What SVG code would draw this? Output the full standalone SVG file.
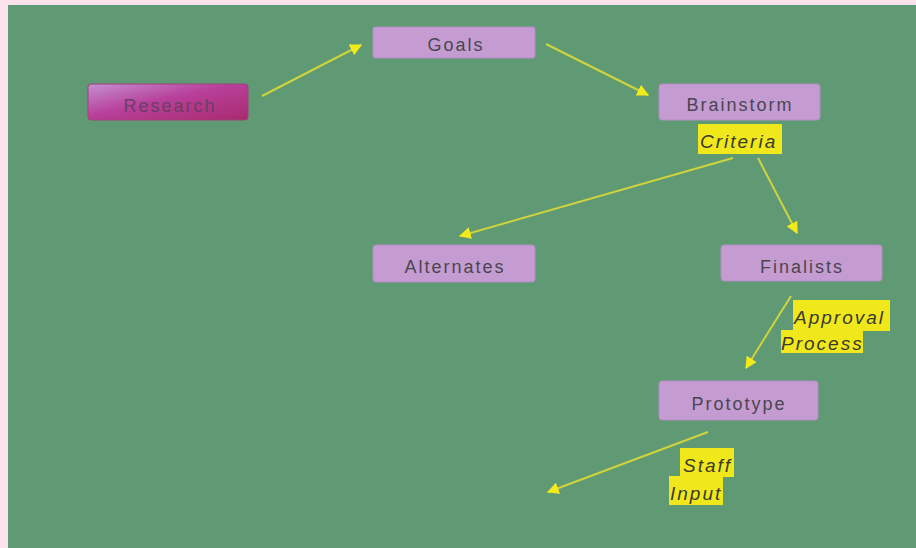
<svg xmlns="http://www.w3.org/2000/svg" width="916" height="548" viewBox="0 0 916 548">
<defs>
<style>
.node rect.box{fill:#c59cd2;stroke:#b48cc4;stroke-width:1}
.node text{font-family:"Liberation Sans",Arial,sans-serif;font-size:18px;letter-spacing:2px;fill:#4a4650;text-anchor:middle;dominant-baseline:central}
.lab rect{fill:#f1e81c}
.lab text{font-family:"Liberation Sans",Arial,sans-serif;font-size:19px;letter-spacing:2px;font-style:italic;fill:#3a3a30}
.conn line{stroke:#cfd43c;stroke-width:2;marker-end:url(#ah)}
</style>
<linearGradient id="rg" x1="0" y1="0" x2="1" y2="1">
<stop offset="0" stop-color="#c490d2"/>
<stop offset="0.45" stop-color="#b8409a"/>
<stop offset="1" stop-color="#a82a6e"/>
</linearGradient>
<marker id="ah" viewBox="0 0 10 10" refX="9" refY="5" markerWidth="6" markerHeight="6" orient="auto" markerUnits="strokeWidth">
<path d="M0,0 L10,5 L0,10 z" fill="#f2ea1a"/>
</marker>
</defs>
<rect x="0" y="0" width="916" height="548" fill="#fbe2ea"/>
<rect x="8" y="5" width="908" height="543" fill="#609a74"/>
<g id="connectors" class="conn">
<line x1="262" y1="96" x2="361" y2="45"/>
<line x1="546" y1="44" x2="648" y2="95"/>
<line x1="733" y1="158" x2="460" y2="236"/>
<line x1="758" y1="158" x2="797" y2="233"/>
<line x1="791" y1="296" x2="746" y2="368"/>
<line x1="708" y1="432" x2="548" y2="492"/>
</g>
<g id="research" class="node">
<rect x="88" y="84" width="160" height="36" rx="3" fill="url(#rg)" stroke="#a0407a" stroke-width="1"/>
<text x="170" y="106" style="fill:#6a3e66">Research</text>
</g>
<g id="goals" class="node">
<rect class="box" x="373" y="27" width="162" height="31" rx="2"/>
<text x="456" y="45">Goals</text>
</g>
<g id="brainstorm" class="node">
<rect class="box" x="659" y="84" width="161" height="36" rx="3"/>
<text x="740" y="105">Brainstorm</text>
</g>
<g id="criteria" class="lab">
<rect x="698" y="124" width="84" height="30"/>
<text x="700" y="148">Criteria</text>
</g>
<g id="alternates" class="node">
<rect class="box" x="373" y="245" width="162" height="37" rx="3"/>
<text x="455" y="267">Alternates</text>
</g>
<g id="finalists" class="node">
<rect class="box" x="721" y="245" width="161" height="36" rx="3"/>
<text x="802" y="267">Finalists</text>
</g>
<g id="approval" class="lab">
<rect x="793" y="300" width="97" height="31"/>
<rect x="781" y="330" width="82" height="23"/>
<text x="794" y="324">Approval</text>
<text x="781" y="350">Process</text>
</g>
<g id="prototype" class="node">
<rect class="box" x="659" y="381" width="159" height="39" rx="3"/>
<text x="739" y="404">Prototype</text>
</g>
<g id="staffinput" class="lab">
<rect x="680" y="448" width="54" height="29"/>
<rect x="669" y="476" width="54" height="29"/>
<text x="683" y="472">Staff</text>
<text x="670" y="500">Input</text>
</g>
</svg>
